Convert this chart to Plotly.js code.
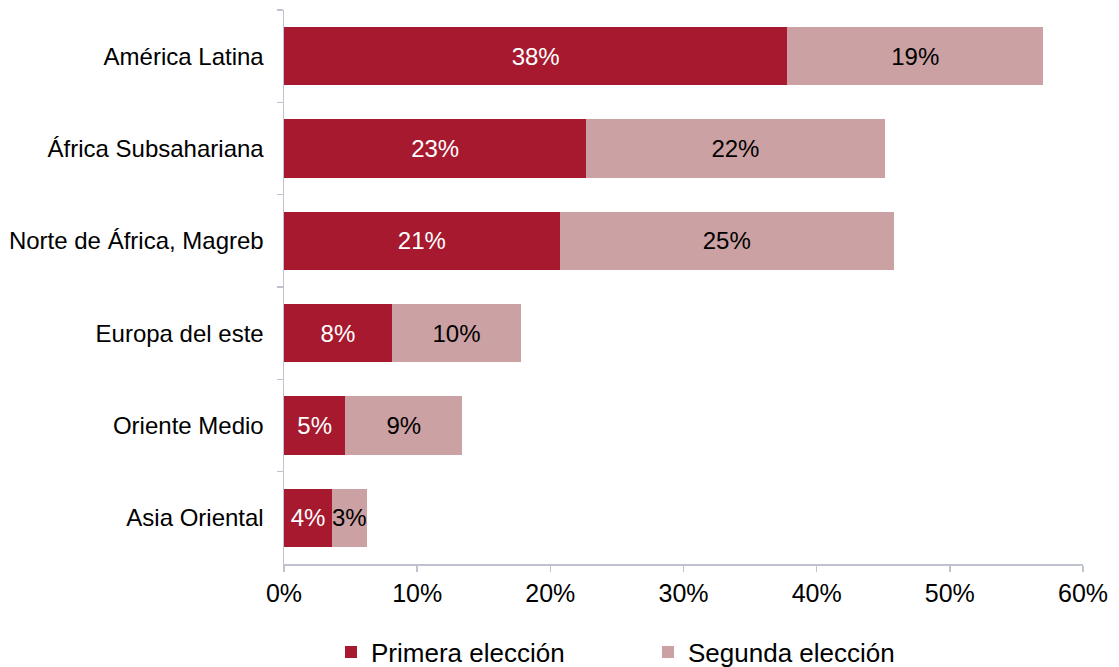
<!DOCTYPE html>
<html>
<head>
<meta charset="utf-8">
<script src="https://cdn.plot.ly/plotly-3.0.1.min.js"></script>
<style>html,body{margin:0;padding:0;background:#fff;}#chart{width:1119px;height:667px;}</style>
</head>
<body>
<div id="chart"></div>
<script>
const categories = ["América Latina", "África Subsahariana", "Norte de África, Magreb", "Europa del este", "Oriente Medio", "Asia Oriental"];
const primera = [37.8, 22.7, 20.7, 8.1, 4.6, 3.6];
const segunda = [19.2, 22.4, 25.1, 9.7, 8.8, 2.6];
const seriesNames = ["Primera elección", "Segunda elección"];

const fam = "Liberation Sans, Arial, sans-serif";
const catFont = {family: fam, size: 24, color: "#000"};
const tickFont = {family: fam, size: 25, color: "#000"};
const legendFont = {family: fam, size: 26, color: "#000"};
const axisColor = "#BFC3CF";

const traces = [
  {
    type: "bar", orientation: "h", name: seriesNames[0],
    y: categories, x: primera,
    marker: {color: "#A6192E"},
    texttemplate: "%{x:.0f}%", textposition: "inside", insidetextanchor: "middle",
    textangle: 0, constraintext: "none",
    textfont: {family: fam, size: 24, color: "#fff"},
    hoverinfo: "skip"
  },
  {
    type: "bar", orientation: "h", name: seriesNames[1],
    y: categories, x: segunda,
    marker: {color: "#CCA1A3"},
    texttemplate: "%{x:.0f}%", textposition: "inside", insidetextanchor: "middle",
    textangle: 0, constraintext: "none",
    textfont: {family: fam, size: 24, color: "#000"},
    hoverinfo: "skip"
  }
];

const layout = {
  width: 1119, height: 667,
  barmode: "stack", bargap: 0.37,
  margin: {l: 284, r: 36, t: 10, b: 103},
  paper_bgcolor: "#fff", plot_bgcolor: "#fff",
  font: catFont,
  showlegend: true,
  legend: {orientation: "h", x: 0.2958, xref: "container", xanchor: "left", y: 0.0225, yref: "container", yanchor: "middle", font: legendFont, traceorder: "normal", itemwidth: 30, entrywidth: 272},
  xaxis: {
    range: [0, 60], dtick: 10, ticksuffix: "%", showgrid: false, zeroline: false,
    showline: true, linecolor: axisColor, linewidth: 1.5,
    ticks: "outside", ticklen: 6, tickcolor: axisColor, tickwidth: 1.5,
    tickfont: tickFont, fixedrange: true
  },
  yaxis: {
    type: "category", autorange: "reversed", showgrid: false, zeroline: false,
    showline: true, linecolor: axisColor, linewidth: 1.5,
    ticks: "outside", ticklen: 6, tickcolor: axisColor, tickwidth: 1.5,
    tickson: "boundaries", ticklabelstandoff: 14,
    tickfont: catFont, fixedrange: true
  }
};

Plotly.newPlot("chart", traces, layout, {displayModeBar: false, staticPlot: true});
</script>
</body>
</html>
